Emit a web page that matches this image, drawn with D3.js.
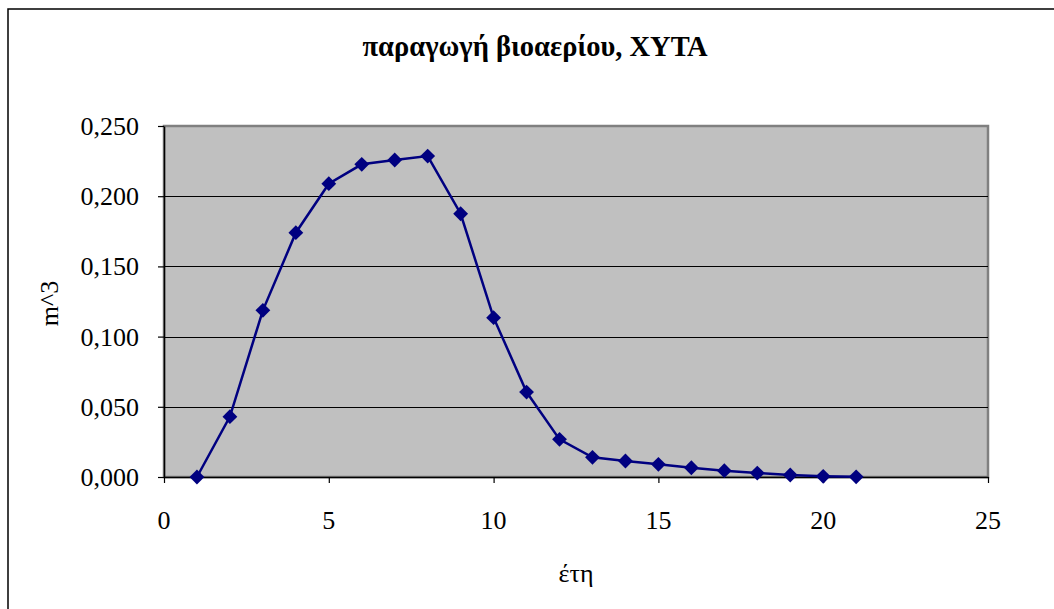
<!DOCTYPE html>
<html><head><meta charset="utf-8">
<script src="https://cdn.jsdelivr.net/npm/d3@7"></script>
<style>body{margin:0;background:#fff}text{font-family:"Liberation Serif","Times New Roman",serif;fill:#000}</style>
</head><body><svg id="c" width="1054" height="609"></svg>
<script>
const years = [1,2,3,4,5,6,7,8,9,10,11,12,13,14,15,16,17,18,19,20,21];
const biogas = [0.000,0.043,0.1187,0.174,0.2089,0.2227,0.2258,0.2286,0.1875,0.1135,0.0605,0.0268,0.014,0.0114,0.009,0.0066,0.0045,0.0028,0.0014,0.0005,0.0001];
const xTicks = [0,5,10,15,20,25];
const yTicks = [0,0.05,0.10,0.15,0.20,0.25];
const title = "παραγωγή βιοαερίου, ΧΥΤΑ";
const xTitle = "έτη";
const yTitle = "m^3";

const svg = d3.select("#c");
const L=164,R=988,T=126,B=477;
const x = d3.scaleLinear().domain([0,25]).range([L,R]);
const y = d3.scaleLinear().domain([0,0.25]).range([B,T]);
const loc = d3.formatLocale({decimal:",",thousands:".",grouping:[3],currency:["","€"]});
const fmt = loc.format(".3f");
const FS = 26;

// outer border
svg.append("rect").attr("x",8).attr("y",9).attr("width",1060).attr("height",620)
  .attr("fill","none").attr("stroke","#000").attr("stroke-width",1.5);

// plot area
svg.append("rect").attr("x",L).attr("y",T).attr("width",R-L).attr("height",B-T)
  .attr("fill","#c0c0c0").attr("stroke","#808080").attr("stroke-width",2.5);

// gridlines
svg.append("g").selectAll("line").data(yTicks.filter(d=>d>0&&d<0.25)).join("line")
  .attr("x1",L).attr("x2",R).attr("y1",d=>Math.round(y(d))+0.5).attr("y2",d=>Math.round(y(d))+0.5)
  .attr("stroke","#000").attr("stroke-width",1);

// axes
const yAxis = svg.append("g").attr("transform",`translate(${L},0)`)
  .call(d3.axisLeft(y).tickValues(yTicks).tickFormat("").tickSize(6).tickSizeOuter(0));
const xAxis = svg.append("g").attr("transform",`translate(0,${B})`)
  .call(d3.axisBottom(x).tickValues(xTicks).tickFormat("").tickSize(6).tickSizeOuter(0));
[yAxis,xAxis].forEach(g=>{g.select(".domain").attr("stroke","#000").attr("stroke-width",1.5);g.selectAll(".tick line").attr("stroke","#000").attr("stroke-width",1.2);});

// tick labels
svg.append("g").selectAll("text").data(yTicks).join("text")
  .attr("x",139).attr("y",d=>y(d)+9).attr("text-anchor","end").attr("font-size",FS).text(d=>fmt(d));
svg.append("g").selectAll("text").data(xTicks).join("text")
  .attr("x",d=>x(d)).attr("y",529).attr("text-anchor","middle").attr("font-size",FS).text(d=>d);

// titles
svg.append("text").attr("x",535).attr("y",56).attr("text-anchor","middle")
  .attr("font-size",28.5).attr("font-weight","bold").text(title);
svg.append("text").attr("x",(L+R)/2).attr("y",582).attr("text-anchor","middle")
  .attr("font-size",FS).text(xTitle);
svg.append("text").attr("transform",`translate(58,${(T+B)/2+2}) rotate(-90)`).attr("text-anchor","middle")
  .attr("font-size",FS).text(yTitle);

// line
const pts = years.map((d,i)=>[d,biogas[i]]);
svg.append("path").datum(pts)
  .attr("d",d3.line().x(d=>x(d[0])).y(d=>y(d[1])))
  .attr("fill","none").attr("stroke","#000080").attr("stroke-width",2.5);
// markers
svg.append("g").selectAll("path").data(pts).join("path")
  .attr("d",d3.symbol(d3.symbolSquare,110))
  .attr("transform",d=>`translate(${x(d[0])},${y(d[1])}) rotate(45)`)
  .attr("fill","#000080");
</script></body></html>
